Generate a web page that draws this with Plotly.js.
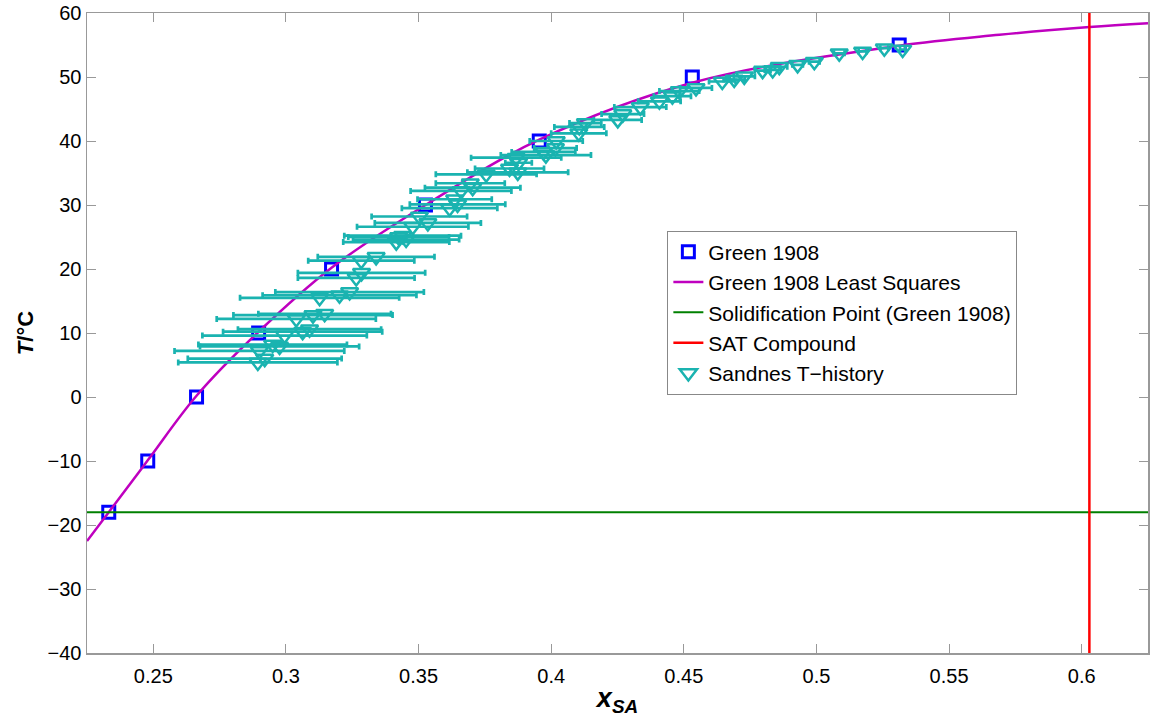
<!DOCTYPE html>
<html>
<head>
<meta charset="utf-8">
<script src="https://cdn.plot.ly/plotly-3.0.1.min.js"></script>
<style>
  html, body { margin: 0; padding: 0; background: #fff; }
  #chart { width: 1150px; height: 717px; }
</style>
</head>
<body>
<div id="chart"></div>
<script>
// Green 1908 measured points
const greenX = [0.2332, 0.2479, 0.2663, 0.2897, 0.3172, 0.3526, 0.3955, 0.4532, 0.5312];
const greenT = [-18, -10, 0, 10, 20, 30, 40, 50, 55];

// Green 1908 least squares curve
const fitX = [0.225, 0.2332, 0.2479, 0.2663, 0.2897, 0.3172, 0.3526, 0.3955, 0.4532, 0.5312, 0.569, 0.603, 0.625];
const fitT = [-22.5, -18, -9.9, 0.2, 10.2, 20.2, 30.0, 40.2, 49.1, 54.9, 56.6, 57.8, 58.4];

// Solidification point (Green 1908)
const solidX = [0.225, 0.625];
const solidT = [-18, -18];

// SAT compound composition
const satX = [0.6029, 0.6029];
const satT = [-40, 60];

// Sandnes T-history points with horizontal uncertainty
const sandX = [
  0.2894, 0.2920,
  0.2900, 0.2976, 0.2950,
  0.2995, 0.3063, 0.3089,
  0.3039, 0.3102, 0.3146,
  0.3127, 0.3202, 0.3240,
  0.3265, 0.3285,
  0.3284, 0.3340,
  0.3416, 0.3453, 0.3440, 0.3425,
  0.3478, 0.3535,
  0.3503,
  0.3617, 0.3647,
  0.3636,
  0.3660, 0.3704,
  0.3695,
  0.3755, 0.3874,
  0.3843,
  0.3877,
  0.3868, 0.3980,
  0.3971,
  0.4016,
  0.4019,
  0.4104,
  0.4106,
  0.4129,
  0.4251,
  0.4270,
  0.4336,
  0.4408,
  0.4457,
  0.4483,
  0.4546,
  0.4645,
  0.4690, 0.4728, 0.4797, 0.4835, 0.4860, 0.4929, 0.4992, 0.5086, 0.5174, 0.5256, 0.5325
];
const sandT = [
  5.4, 6.0,
  7.2, 7.9, 8.2,
  9.6, 10.2, 10.6,
  12.2, 12.8, 13.0,
  15.5, 15.9, 16.4,
  18.6, 19.4,
  21.3, 21.9,
  24.2, 24.6, 25.2, 25.0,
  26.6, 27.2,
  28.2,
  29.5, 30.1,
  30.9,
  32.2, 32.7,
  33.4,
  34.8, 35.1,
  35.7,
  36.6,
  37.4, 37.8,
  38.3,
  38.9,
  40.0,
  41.2,
  42.2,
  42.8,
  43.3,
  44.2,
  45.3,
  46.2,
  47.0,
  47.8,
  48.3,
  49.3,
  49.6, 50.1, 51.0, 51.1, 51.6, 51.9, 52.4, 53.7, 54.0, 54.5, 54.3
];
const sandErr = [
  0.030, 0.029,
  0.032, 0.030, 0.028,
  0.031, 0.030, 0.027,
  0.030, 0.030, 0.025,
  0.030, 0.029, 0.028,
  0.022, 0.024,
  0.020, 0.022,
  0.020, 0.020, 0.022, 0.019,
  0.021, 0.020,
  0.018,
  0.018, 0.018,
  0.014,
  0.019, 0.018,
  0.013,
  0.019, 0.019,
  0.013,
  0.005,
  0.017, 0.017,
  0.012,
  0.008,
  0.010,
  0.0104,
  0.0094,
  0.006,
  0.009,
  0.008,
  0.0098,
  0.008,
  0.007,
  0.0075,
  0.006,
  0.005,
  0.004, 0.004, 0.003, 0.003, 0.003, 0.002, 0.002, 0.002, 0.0015, 0.0015, 0.001
];

// Axis ticks
const xTicks = [0.25, 0.3, 0.35, 0.4, 0.45, 0.5, 0.55, 0.6];
const xTickText = ['0.25', '0.3', '0.35', '0.4', '0.45', '0.5', '0.55', '0.6'];
const yTicks = [-40, -30, -20, -10, 0, 10, 20, 30, 40, 50, 60];

const cyan = 'rgb(26,179,176)';
const FONT = 'Liberation Sans, Arial, Helvetica, sans-serif';

const traces = [
  {
    x: greenX, y: greenT, type: 'scatter', mode: 'markers', name: 'Green 1908',
    marker: { symbol: 'square-open', size: 12, color: 'rgb(0,0,255)', line: { width: 3, color: 'rgb(0,0,255)' } }
  },
  {
    x: fitX, y: fitT, type: 'scatter', mode: 'lines', name: 'Green 1908 Least Squares',
    line: { color: 'rgb(191,0,191)', width: 2.5, shape: 'spline', smoothing: 1.0 }
  },
  {
    x: solidX, y: solidT, type: 'scatter', mode: 'lines', name: 'Solidification Point (Green 1908)',
    line: { color: 'rgb(0,128,0)', width: 2 }
  },
  {
    x: satX, y: satT, type: 'scatter', mode: 'lines', name: 'SAT Compound',
    line: { color: 'rgb(255,0,0)', width: 2.5 }
  },
  {
    x: sandX, y: sandT, type: 'scatter', mode: 'markers', name: 'Sandnes T\u2212history',
    marker: { symbol: 'triangle-down-open', size: 15, color: cyan, line: { width: 2.5, color: cyan } },
    error_x: { type: 'data', array: sandErr, visible: true, color: cyan, thickness: 2.7, width: 3 }
  }
];

const layout = {
  width: 1150, height: 717,
  margin: { l: 87, r: 2, t: 13, b: 64 },
  paper_bgcolor: '#fff', plot_bgcolor: '#fff',
  font: { family: FONT, size: 20, color: '#000' },
  showlegend: true,
  legend: {
    x: 0.547, y: 0.66, xanchor: 'left', yanchor: 'top',
    bgcolor: '#fff', bordercolor: '#888', borderwidth: 1,
    font: { family: FONT, size: 21, color: '#000' },
    tracegroupgap: 0
  },
  xaxis: {
    range: [0.225, 0.625], tickvals: xTicks, ticktext: xTickText,
    ticks: 'inside', ticklen: 9, tickwidth: 1, tickcolor: '#999',
    showline: true, linecolor: '#999', linewidth: 1.5, mirror: 'ticks',
    showgrid: false, zeroline: false,
    tickfont: { family: FONT, size: 20, color: '#000' },
    ticklabelstandoff: 4,
    title: { text: '<b><i>x</i></b><sub><b><i>SA</i></b></sub>', font: { family: FONT, size: 27, color: '#000' }, standoff: 4 }
  },
  yaxis: {
    range: [-40, 60], tickvals: yTicks,
    ticks: 'inside', ticklen: 9, tickwidth: 1, tickcolor: '#999',
    showline: true, linecolor: '#999', linewidth: 1.5, mirror: 'ticks',
    showgrid: false, zeroline: false,
    tickfont: { family: FONT, size: 20, color: '#000' },
    title: { text: '<b><i>T</i>/°C</b>', font: { family: FONT, size: 22, color: '#000' }, standoff: 8 }
  }
};

Plotly.newPlot('chart', traces, layout, { displayModeBar: false, staticPlot: true });
</script>
</body>
</html>
